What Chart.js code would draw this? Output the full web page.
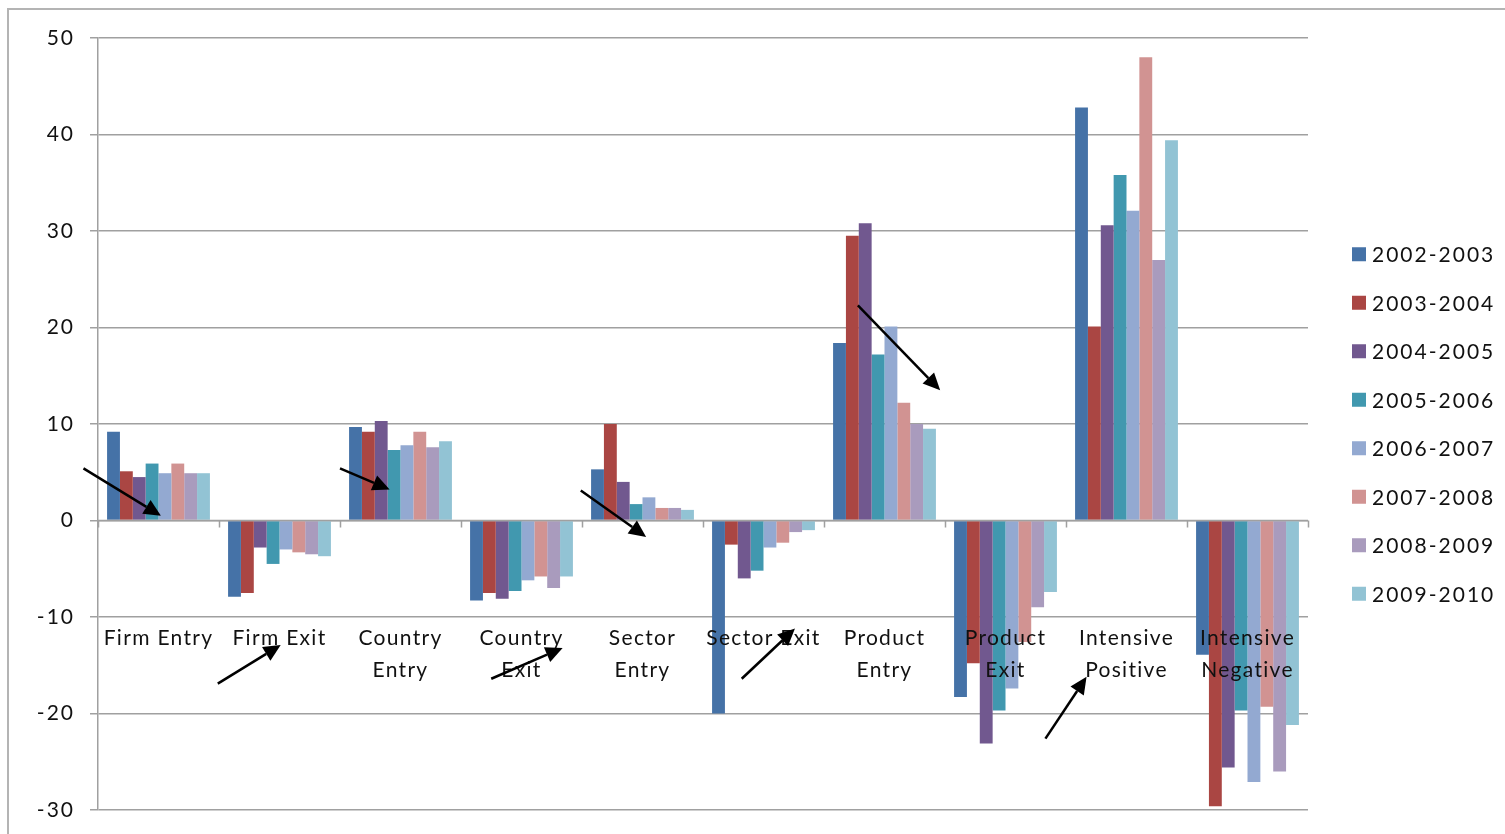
<!DOCTYPE html>
<html>
<head>
<meta charset="utf-8">
<script src="https://cdn.jsdelivr.net/npm/chart.js@4/dist/chart.umd.min.js"></script>
<style>
  html, body { margin: 0; padding: 0; background: #fff; }
  canvas { display: block; }
</style>
</head>
<body>
<canvas id="chart" width="1505" height="834"></canvas>
<script>
// categories (wrapped the way the axis shows them)
const categories = ['Firm Entry', 'Firm Exit', 'Country Entry', 'Country Exit', 'Sector Entry',
    'Sector Exit', 'Product Entry', 'Product Exit', 'Intensive Positive', 'Intensive Negative'];
const categoryLines = [['Firm Entry'], ['Firm Exit'], ['Country', 'Entry'], ['Country', 'Exit'],
    ['Sector', 'Entry'], ['Sector Exit'], ['Product', 'Entry'], ['Product', 'Exit'],
    ['Intensive', 'Positive'], ['Intensive', 'Negative']];

const periods = ['2002-2003', '2003-2004', '2004-2005', '2005-2006',
    '2006-2007', '2007-2008', '2008-2009', '2009-2010'];

// values per period, one per category
const v2002 = [9.2, -7.9, 9.7, -8.3, 5.3, -20.0, 18.4, -18.3, 42.8, -13.9];
const v2003 = [5.1, -7.5, 9.2, -7.5, 10.0, -2.5, 29.5, -14.8, 20.1, -29.6];
const v2004 = [4.5, -2.8, 10.3, -8.1, 4.0, -6.0, 30.8, -23.1, 30.6, -25.6];
const v2005 = [5.9, -4.5, 7.3, -7.3, 1.7, -5.2, 17.2, -19.7, 35.8, -19.7];
const v2006 = [4.9, -3.0, 7.8, -6.2, 2.4, -2.8, 20.1, -17.4, 32.1, -27.1];
const v2007 = [5.9, -3.3, 9.2, -5.8, 1.3, -2.3, 12.2, -12.6, 48.0, -19.3];
const v2008 = [4.9, -3.5, 7.6, -7.0, 1.3, -1.2, 10.0, -9.0, 27.0, -26.0];
const v2009 = [4.9, -3.7, 8.2, -5.8, 1.1, -1.0, 9.5, -7.4, 39.4, -21.2];
const seriesValues = [v2002, v2003, v2004, v2005, v2006, v2007, v2008, v2009];

const colors = ['#4572A7', '#AA4643', '#71588F', '#4198AF', '#93A9D1', '#D19392', '#A99BBD', '#92C3D4'];

const yTicks = [50, 40, 30, 20, 10, 0, -10, -20, -30];

// annotation arrows: [fromIndex, fromValue, toIndex, toValue] in category / value units
const arrows = [
    [-0.62, 5.4, 0.02, 0.5],
    [0.49, -16.9, 1.01, -12.9],
    [1.50, 5.4, 1.91, 3.2],
    [2.75, -16.4, 3.34, -13.2],
    [3.49, 3.1, 4.03, -1.7],
    [4.82, -16.4, 5.26, -11.2],
    [5.78, 22.3, 6.46, 13.5],
    [7.33, -22.6, 7.67, -16.2]
];

const FONT = 'Lato, "Open Sans", sans-serif';
const TEXT = '#111';
const GRID = '#a0a0a0';

const decorPlugin = {
    id: 'decor',
    beforeDraw(chart) {
        const ctx = chart.ctx;
        ctx.save();
        ctx.fillStyle = '#fff';
        ctx.fillRect(0, 0, chart.width, chart.height);
        // outer frame of the chart object
        ctx.strokeStyle = '#b4b4b4';
        ctx.lineWidth = 2;
        ctx.beginPath();
        ctx.moveTo(8, chart.height);
        ctx.lineTo(8, 9);
        ctx.lineTo(chart.width, 9);
        ctx.stroke();
        ctx.restore();
        // wider letter spacing for every text drawn afterwards (tick labels too)
        if ('letterSpacing' in ctx) ctx.letterSpacing = '2px';
    },
    afterDatasetsDraw(chart) {
        const ctx = chart.ctx;
        const x = chart.scales.x;
        const y = chart.scales.y;
        const zero = y.getPixelForValue(0);
        ctx.save();

        // horizontal axis line at zero with category tick marks
        ctx.strokeStyle = GRID;
        ctx.lineWidth = 1.5;
        ctx.beginPath();
        ctx.moveTo(chart.chartArea.left, zero);
        ctx.lineTo(chart.chartArea.right, zero);
        for (let i = 0; i <= categories.length; i++) {
            const px = Math.round(x.getPixelForValue(i - 0.5)) + 0.5;
            ctx.moveTo(px, zero);
            ctx.lineTo(px, zero + 7);
        }
        ctx.stroke();

        // category labels
        ctx.font = '21px ' + FONT;
        ctx.fillStyle = TEXT;
        ctx.textAlign = 'center';
        ctx.textBaseline = 'middle';
        if ('letterSpacing' in ctx) ctx.letterSpacing = '1.3px';
        categoryLines.forEach((lines, i) => {
            const cx = x.getPixelForValue(i);
            lines.forEach((line, j) => {
                ctx.fillText(line, cx, y.getPixelForValue(-12.2) + j * 32);
            });
        });

        // arrows
        ctx.strokeStyle = '#000';
        ctx.fillStyle = '#000';
        ctx.lineWidth = 2.5;
        arrows.forEach(a => {
            const x1 = x.getPixelForValue(a[0]), y1 = y.getPixelForValue(a[1]);
            const x2 = x.getPixelForValue(a[2]), y2 = y.getPixelForValue(a[3]);
            const ang = Math.atan2(y2 - y1, x2 - x1);
            const len = 17, half = 8;
            const bx = x2 - Math.cos(ang) * len, by = y2 - Math.sin(ang) * len;
            ctx.beginPath();
            ctx.moveTo(x1, y1);
            ctx.lineTo(bx, by);
            ctx.stroke();
            ctx.beginPath();
            ctx.moveTo(x2, y2);
            ctx.lineTo(bx + Math.sin(ang) * half, by - Math.cos(ang) * half);
            ctx.lineTo(bx - Math.sin(ang) * half, by + Math.cos(ang) * half);
            ctx.closePath();
            ctx.fill();
        });

        // legend to the right of the plot
        const step = 48.5;
        const mid = (chart.chartArea.top + chart.chartArea.bottom) / 2;
        const lx = chart.chartArea.right + 44;
        ctx.textAlign = 'left';
        if ('letterSpacing' in ctx) ctx.letterSpacing = '2px';
        chart.data.datasets.forEach((ds, i) => {
            const cy = mid + (i - (chart.data.datasets.length - 1) / 2) * step;
            ctx.fillStyle = ds.backgroundColor;
            ctx.fillRect(lx, cy - 7, 14, 14);
            ctx.fillStyle = TEXT;
            ctx.fillText(ds.label, lx + 20, cy + 1);
        });
        ctx.restore();
    }
};

const ctx = document.getElementById('chart').getContext('2d');
new Chart(ctx, {
    type: 'bar',
    data: {
        labels: categories,
        datasets: periods.map((p, i) => ({
            label: p,
            data: seriesValues[i],
            backgroundColor: colors[i],
            borderWidth: 0,
            barPercentage: 1.0,
            categoryPercentage: 0.85
        }))
    },
    options: {
        responsive: false,
        animation: false,
        layout: { padding: { top: 38, right: 197, bottom: 24, left: 0 } },
        scales: {
            x: { display: false },
            y: {
                min: -30,
                max: 50,
                afterFit(scale) {
                    scale.width = 98;
                    scale.paddingTop = 0;
                    scale.paddingBottom = 0;
                },
                afterBuildTicks(scale) { scale.ticks = yTicks.map(v => ({ value: v })); },
                grid: { color: GRID, lineWidth: 1.5, tickLength: 8, drawTicks: true },
                border: { color: GRID, width: 1.5 },
                ticks: {
                    padding: 15,
                    color: TEXT,
                    font: { family: FONT, size: 21 },
                    callback: v => String(v)
                }
            }
        },
        plugins: {
            legend: { display: false },
            tooltip: { enabled: false }
        }
    },
    plugins: [decorPlugin]
});
</script>
</body>
</html>
